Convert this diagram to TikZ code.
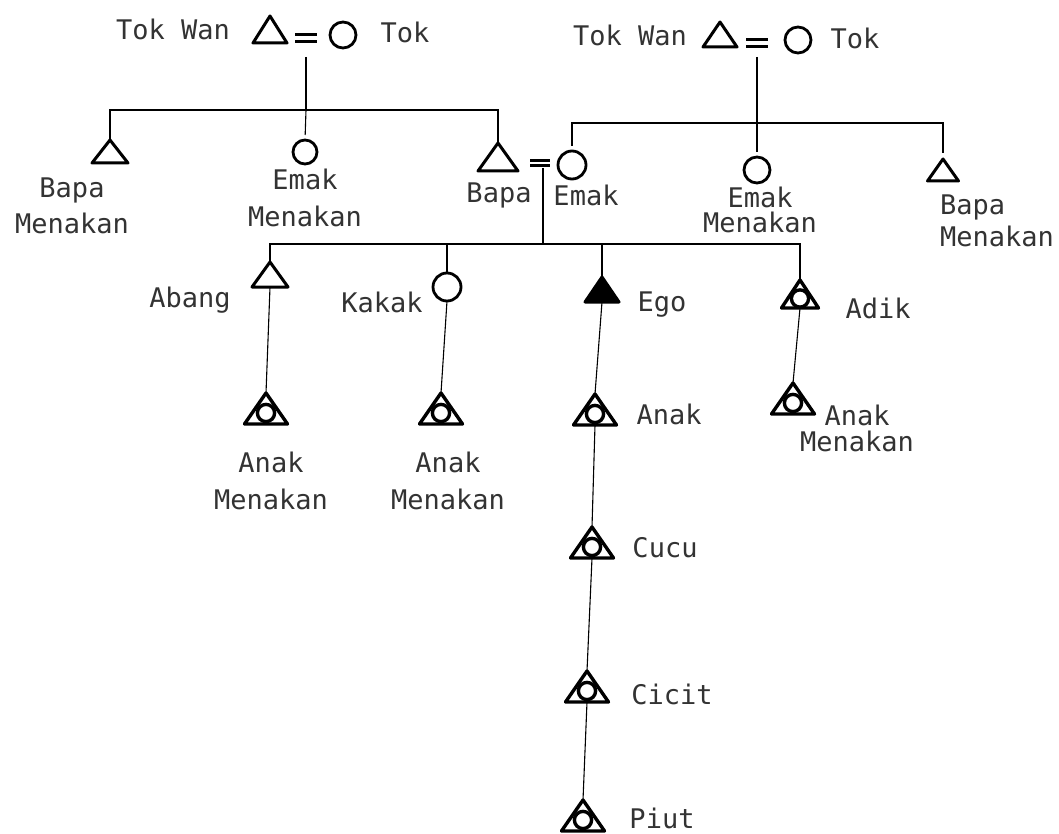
\documentclass[tikz,border=0pt]{standalone}
\usepackage{fontspec}
\newfontfamily\lbl{DejaVu Sans Mono}
\usetikzlibrary{shapes.geometric}
\begin{document}
\begin{tikzpicture}[x=1pt,y=-1pt,
  tri/.style={isosceles triangle, isosceles triangle stretches, shape border rotate=90,
    draw, line width=3pt, minimum width=36pt, minimum height=26pt, inner sep=0pt,
    outer sep=0pt, line join=round, anchor=apex},
  trio/.style={tri, line width=3.4pt, minimum width=43pt, minimum height=31pt,
    path picture={\draw[line width=3.4pt] ([yshift=-4.5pt]path picture bounding box.center) circle (8.6pt);}},
  egotri/.style={tri, fill=black, minimum width=34pt, minimum height=25pt},
  circ/.style={circle, draw, line width=2.8pt, inner sep=0pt, outer sep=0pt, minimum size=#1},
  conn/.style={line width=1.1pt},
  lab/.style={font=\lbl\fontsize{27}{34}\selectfont, text=black!80, inner sep=0pt, align=center},
  eqsign/.pic={\draw[line width=3pt] (-11,-3.3)--(11,-3.3) (-11,3.3)--(11,3.3);}
]
\fill[white] (0,0) rectangle (1059,834);
\useasboundingbox (0,0) rectangle (1059,834);

% ---- grandparents (left) ----
\node[tri, minimum width=34pt, minimum height=27pt] (tw1) at (270,16) {};
\node[circ=26pt] (tk1) at (343,35) {};
\coordinate (m1) at (306,38);
\pic at (m1) {eqsign};
\node[lab] (ltw1) at (173,29) {Tok Wan};
\node[lab] (ltk1) at (405,32) {Tok};

% ---- grandparents (right) ----
\node[tri, minimum width=34pt, minimum height=25pt] (tw2) at (720,22) {};
\node[circ=26pt] (tk2) at (798,40) {};
\coordinate (m3) at (757,43);
\pic at (m3) {eqsign};
\node[lab] (ltw2) at (630,35) {Tok Wan};
\node[lab] (ltk2) at (855,38) {Tok};

% ---- parents' generation ----
\node[tri, minimum height=23pt] (bm1) at (110,140) {};
\node[circ=24pt] (em1) at (305,152) {};
\node[tri, minimum width=40pt, minimum height=28pt] (bapa) at (498,143) {};
\coordinate (m2) at (540,163);
\pic[scale=0.9] at (m2) {eqsign};
\node[circ=28pt] (emak) at (572,165) {};
\node[circ=26pt] (em2) at (757,170) {};
\node[tri, minimum width=31pt, minimum height=22pt] (bm2) at (943,159) {};

\node[lab] (lbm1) at (72,206) {Bapa\\[2pt]Menakan};
\node[lab] (lem1) at (305,198) {Emak\\[3pt]Menakan};
\node[lab] (lbapa) at (499,195) {Bapa};
\node[lab] (lemak) at (586,195) {Emak};
\node[lab] (lem2) at (760,210) {Emak\\[-9pt]Menakan};
\node[lab, align=left, anchor=west] (lbm2) at (940,221) {Bapa\\[-2pt]Menakan};

% ---- ego's generation ----
\node[tri, minimum height=25pt] (abang) at (270,262) {};
\node[circ=28pt] (kakak) at (447,287) {};
\node[egotri] (ego) at (602,277) {};
\node[trio, minimum width=37pt, minimum height=28pt] (adik) at (800,280) {};

\node[lab] (labang) at (190,300) {Abang};
\node[lab] (lkakak) at (382,302) {Kakak};
\node[lab] (lego) at (662,305) {Ego};
\node[lab] (ladik) at (878,308) {Adik};

% ---- children ----
\node[trio] (ac1) at (266,393) {};
\node[trio] (kc1) at (441,393) {};
\node[trio] (anak) at (595,394) {};
\node[trio] (adc) at (793,383) {};

\node[lab] (lac1) at (271,481) {Anak\\[3pt]Menakan};
\node[lab] (lkc1) at (448,481) {Anak\\[3pt]Menakan};
\node[lab] (lanak) at (669,414) {Anak};
\node[lab] (ladc) at (857,428) {Anak\\[-8pt]Menakan};

% ---- descendants ----
\node[trio] (cucu) at (592,527) {};
\node[trio] (cicit) at (587,671) {};
\node[trio] (piut) at (583,800) {};
\node[lab] (lcucu) at (665,548) {Cucu};
\node[lab] (lcicit) at (672,694) {Cicit};
\node[lab] (lpiut) at (662,818) {Piut};

% ---- connectors ----
\coordinate (d1) at (306,110);
\coordinate (d3) at (757,123);
\coordinate (d2) at (543,244);

\draw[conn, shorten <=19pt] (m1) -- (d1);
\draw[conn] (bm1.apex) |- (d1) -| (bapa.apex);
\draw[conn, shorten >=5pt] (d1) -- (em1.north);

\draw[conn, shorten <=14pt] (m3) -- (d3);
\draw[conn, shorten <=5pt, shorten >=6pt] (emak.north) |- (d3) -| (bm2.apex);
\draw[conn, shorten >=5pt] (d3) -- (em2.north);

\draw[conn, shorten <=5pt] (m2 -| d2) -- (d2);
\draw[conn] (abang.apex) |- (d2) -| (adik.apex);
\draw[conn] (kakak.north |- d2) -- (kakak.north);
\draw[conn] (ego.apex |- d2) -- (ego.apex);

\draw[conn] (abang.lower side) -- (ac1.apex);
\draw[conn] (kakak.south) -- (kc1.apex);
\draw[conn] (ego.lower side) -- (anak.apex);
\draw[conn] (adik.lower side) -- (adc.apex);
\draw[conn] (anak.lower side) -- (cucu.apex);
\draw[conn] (cucu.lower side) -- (cicit.apex);
\draw[conn] (cicit.lower side) -- (piut.apex);
\end{tikzpicture}
\end{document}
